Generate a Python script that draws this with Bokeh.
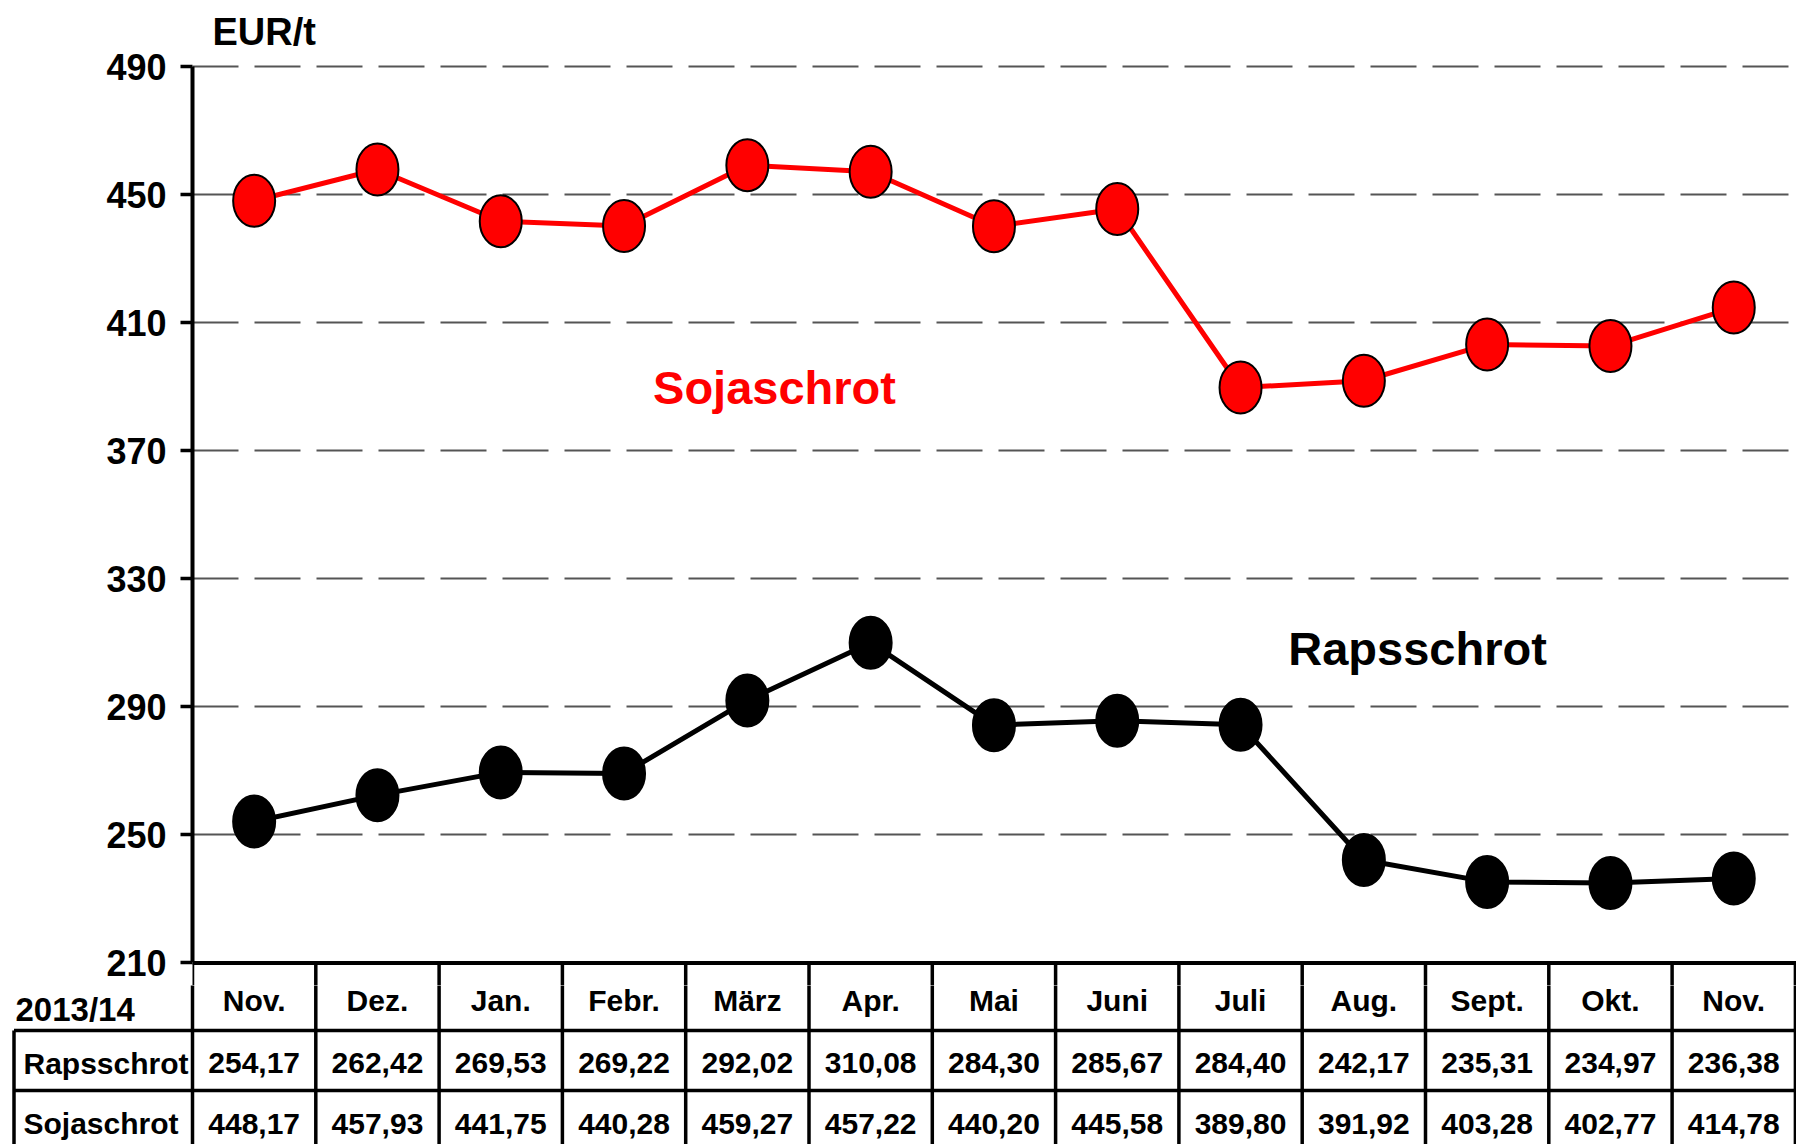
from bokeh.plotting import figure
from bokeh.models import Range1d, FixedTicker
from bokeh.layouts import column
from bokeh.embed import file_html
from bokeh.resources import INLINE
from bokeh.core.properties import value

# ---------------- data ----------------
months = ["Nov.", "Dez.", "Jan.", "Febr.", "März", "Apr.", "Mai", "Juni",
          "Juli", "Aug.", "Sept.", "Okt.", "Nov."]
rapsschrot = [254.17, 262.42, 269.53, 269.22, 292.02, 310.08, 284.30,
              285.67, 284.40, 242.17, 235.31, 234.97, 236.38]
sojaschrot = [448.17, 457.93, 441.75, 440.28, 459.27, 457.22, 440.20,
              445.58, 389.80, 391.92, 403.28, 402.77, 414.78]
y_ticks = [210, 250, 290, 330, 370, 410, 450, 490]
season_label = "2013/14"
unit_label = "EUR/t"
name_raps = "Rapsschrot"
name_soja = "Sojaschrot"

# ---------------- layout helpers ----------------
W, H = 1796, 1144
FRAME_LEFT = 192          # pixel x of the y axis
PPU_X = 123.3             # pixels per month column
PPU_Y = 3.2               # pixels per EUR
Y_TOP_PX = 66.4           # pixel y of the top tick (490)
SPLIT = 985               # pixel y where the table figure starts

def px_x(px):
    return -0.5 + (px - FRAME_LEFT) / PPU_X

def px_y(py):
    return y_ticks[-1] - (py - Y_TOP_PX) / PPU_Y

FONT = "'Liberation Sans', Arial, sans-serif"
RED = "#ff0000"
LW_TABLE = 3.5

xs = list(range(len(months)))


def add_table_lines(fig):
    n = len(months)
    fig.segment(x0=[k - 0.5 for k in range(n + 1)], y0=[y_ticks[0]] * (n + 1),
                x1=[k - 0.5 for k in range(n + 1)], y1=[px_y(H + 20)] * (n + 1),
                line_color="black", line_width=LW_TABLE)
    fig.segment(x0=[px_x(13.5), px_x(13.5)], y0=[px_y(1030), px_y(1090)],
                x1=[px_x(W + 20), px_x(W + 20)], y1=[px_y(1030), px_y(1090)],
                line_color="black", line_width=LW_TABLE)
    fig.segment(x0=[px_x(13.5)], y0=[px_y(1030)], x1=[px_x(13.5)], y1=[px_y(H + 20)],
                line_color="black", line_width=LW_TABLE)


# ---------------- chart ----------------
top = figure(width=W, height=SPLIT, output_backend="svg", toolbar_location=None,
             x_range=Range1d(px_x(FRAME_LEFT), px_x(W)),
             y_range=Range1d(px_y(SPLIT), px_y(0)),
             x_axis_location=None, min_border_left=FRAME_LEFT, min_border_right=0,
             min_border_top=0, min_border_bottom=0)
top.frame_align = False
top.outline_line_color = None
top.background_fill_color = "white"
top.border_fill_color = "white"

ax = top.yaxis[0]
ax.ticker = FixedTicker(ticks=y_ticks, minor_ticks=[])
ax.bounds = (y_ticks[0], y_ticks[-1])
ax.axis_line_width = 4
ax.axis_line_color = "black"
ax.major_tick_line_width = 3.5
ax.major_tick_line_color = "black"
ax.major_tick_out = 12
ax.major_tick_in = 0
ax.minor_tick_out = 0
ax.minor_tick_in = 0
ax.major_label_standoff = 14
ax.major_label_text_font = FONT
ax.major_label_text_font_size = "36px"
ax.major_label_text_font_style = "bold"
ax.major_label_text_color = "black"

top.xgrid.visible = False
top.ygrid.ticker = FixedTicker(ticks=y_ticks[1:])
top.ygrid.grid_line_color = "#555555"
top.ygrid.grid_line_width = 2
top.ygrid.grid_line_dash = "46 16"

# base line at 210 (top of table)
top.segment(x0=[-0.5], y0=[y_ticks[0]], x1=[px_x(W + 20)], y1=[y_ticks[0]],
            line_color="black", line_width=4)
add_table_lines(top)

top.line(xs, sojaschrot, line_color=RED, line_width=5)
top.line(xs, rapsschrot, line_color="black", line_width=5)
top.ellipse(xs, sojaschrot, width=42, height=52, width_units="screen",
            height_units="screen", fill_color=RED, line_color="black", line_width=2)
top.ellipse(xs, rapsschrot, width=42, height=52, width_units="screen",
            height_units="screen", fill_color="black", line_color="black", line_width=2)

top.text(x=[px_x(212)], y=[px_y(31)], text=[unit_label],
         text_font=value(FONT), text_font_size="38px", text_font_style="bold",
         text_color="black", text_align="left", text_baseline="middle")
top.text(x=[px_x(774)], y=[px_y(387)], text=[name_soja],
         text_font=value(FONT), text_font_size="47px", text_font_style="bold",
         text_color=RED, text_align="center", text_baseline="middle")
top.text(x=[px_x(1417)], y=[px_y(647.5)], text=[name_raps],
         text_font=value(FONT), text_font_size="47px", text_font_style="bold",
         text_color="black", text_align="center", text_baseline="middle")

# ---------------- table ----------------
bot = figure(width=W, height=H - SPLIT, output_backend="svg", toolbar_location=None,
             x_range=Range1d(px_x(0), px_x(W)), y_range=Range1d(px_y(H), px_y(SPLIT)),
             x_axis_location=None, y_axis_location=None, min_border=0)
bot.frame_align = False
bot.outline_line_color = None
bot.background_fill_color = "white"
bot.border_fill_color = "white"
for g in bot.grid:
    g.visible = False

add_table_lines(bot)

fmt = lambda v: f"{v:.2f}".replace(".", ",")
TSIZE = "30px"

bot.text(x=xs, y=[px_y(1000)] * len(xs), text=months, text_font=value(FONT),
         text_font_size=TSIZE, text_font_style="bold", text_color="black",
         text_align="center", text_baseline="middle")
bot.text(x=xs, y=[px_y(1062.5)] * len(xs), text=[fmt(v) for v in rapsschrot],
         text_font=value(FONT), text_font_size=TSIZE, text_font_style="bold",
         text_color="black", text_align="center", text_baseline="middle")
bot.text(x=xs, y=[px_y(1123)] * len(xs), text=[fmt(v) for v in sojaschrot],
         text_font=value(FONT), text_font_size=TSIZE, text_font_style="bold",
         text_color="black", text_align="center", text_baseline="middle")
bot.text(x=[px_x(15)], y=[px_y(1009)], text=[season_label], text_font=value(FONT),
         text_font_size="33px", text_font_style="bold", text_color="black",
         text_align="left", text_baseline="middle")
bot.text(x=[px_x(23), px_x(23)], y=[px_y(1062.5), px_y(1123)], text=[name_raps, name_soja],
         text_font=value(FONT), text_font_size=TSIZE, text_font_style="bold",
         text_color="black", text_align="left", text_baseline="middle")

layout = column(top, bot, spacing=0)
open("out.html", "w").write(file_html(layout, INLINE))
